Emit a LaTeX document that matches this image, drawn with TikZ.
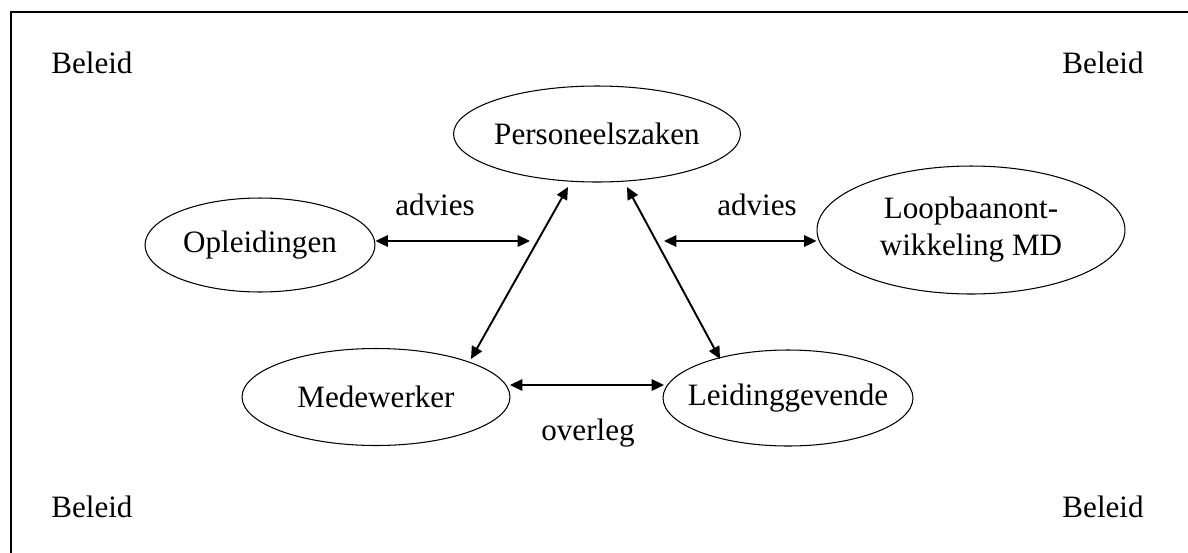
\documentclass[tikz,border=0pt]{standalone}
\usepackage{fontspec}
\setmainfont{Liberation Serif}
\usetikzlibrary{arrows.meta,shapes.geometric}

\begin{document}
\begin{tikzpicture}[
    x=0.02cm, y=-0.02cm,
    font=\fontsize{17.7}{21}\selectfont,
    oval/.style={draw, ellipse, line width=0.6pt, inner sep=-8pt, align=center},
    arrow/.style={{Triangle[length=7pt, width=6.5pt]}-{Triangle[length=7pt, width=6.5pt]}, line width=1.1pt},
    lbl/.style={inner sep=0pt}
  ]
    \useasboundingbox (0,0) rectangle (1188,552);
    \draw[line width=1.1pt] (11,12) rectangle (1200,570);
    % hoeken
    \node[lbl, anchor=base west] (blo) at (51,73) {Beleid};
    \node[lbl, anchor=base east] (bro) at (1144,73) {Beleid};
    \node[lbl, anchor=base west] (blu) at (51,517) {Beleid};
    \node[lbl, anchor=base east] (bru) at (1144,517) {Beleid};
    % ellipsen
    \node[oval, minimum width=5.74cm, minimum height=1.92cm] (pz) at (597,134) {Personeelszaken};
    \node[oval, minimum width=4.6cm, minimum height=1.88cm] (opl) at (260,245) {Opleidingen};
    \node[oval, minimum width=6.16cm, minimum height=2.56cm] (lb) at (971,230) {Loopbaanont-\\wikkeling MD};
    \node[oval, minimum width=5.36cm, minimum height=1.94cm] (mw) at (376,397) {Medewerker};
    \node[oval, minimum width=5.0cm, minimum height=1.92cm] (lg) at (788,398) {Leidinggevende};
    % vrije eindpunten
    \coordinate (advl) at (530,241);
    \coordinate (advr) at (664,241);
    \coordinate (pzl) at (568,187);
    \coordinate (pzr) at (627,187);
    \coordinate (mwr) at (471,359);
    \coordinate (lgl) at (720,359);
    \coordinate (ovl) at (510,385);
    \coordinate (ovr) at (664,385);
    \draw[arrow] (opl.east |- advl) -- (advl);
    \draw[arrow] (advr) -- (lb.west |- advr);
    \draw[arrow] (pzl) -- (mwr);
    \draw[arrow] (pzr) -- (lgl);
    \draw[arrow] (ovl) -- (ovr);
    \node[lbl, anchor=base] (a1) at (435,215) {advies};
    \node[lbl, anchor=base] (a2) at (757,215) {advies};
    \node[lbl, anchor=base] (ov) at (588,440) {overleg};
  \end{tikzpicture}
\end{document}
